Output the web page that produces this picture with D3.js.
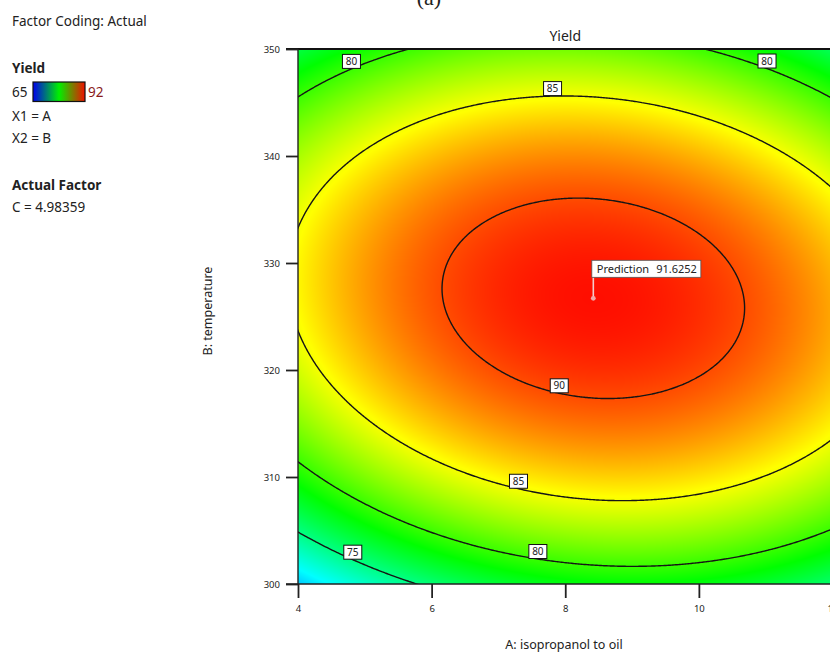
<!DOCTYPE html>
<html>
<head>
<meta charset="utf-8">
<script src="https://cdn.jsdelivr.net/npm/d3@7"></script>
<style>
  html, body { margin: 0; padding: 0; background: #fff; }
  svg { display: block; }
  text { font-family: "Noto Sans", "Open Sans", sans-serif; fill: #222; }
</style>
</head>
<body>
<svg id="chart" width="830" height="655"></svg>
<script>
// ---- factor axes ----
const aTicks = [4, 6, 8, 10, 12];
const bTicks = [300, 310, 320, 330, 340, 350];
const aDomain = [4, 12];
const bDomain = [300, 350];

// ---- yield colour ramp ----
const yieldRange = [65, 92];
const rampColors = ["#0000ff", "#00ffff", "#00ff00", "#ffff00", "#ff0000"];

// ---- fitted quadratic response, written about its stationary point ----
const optimumFactors = [8.42, 326.7];      // A, B at the maximum
const optimumYield = 91.6252;
const curvature = [0.32, 0.0187, 0.015];   // A^2, B^2, A*B terms

const contourLevels = [75, 80, 85, 90];

// ---- contour labels: level, A where the tag sits, side of the optimum ----
const labelLevels = [80, 85, 80, 90, 85, 80, 75];
const labelA = [4.80, 7.81, 11.02, 7.91, 7.30, 7.59, 4.82];
const labelSide = [1, 1, 1, -1, -1, -1, -1];

// ---- side panel text ----
const factorCoding = "Factor Coding: Actual";
const responseName = "Yield";
const factorMap = ["X1 = A", "X2 = B"];
const actualFactorTitle = "Actual Factor";
const actualFactor = "C = 4.98359";

function yieldAt(A, B) {
  const dA = A - optimumFactors[0], dB = B - optimumFactors[1];
  return optimumYield - curvature[0] * dA * dA - curvature[1] * dB * dB - curvature[2] * dA * dB;
}
// B on a given contour level at a given A (upper or lower branch)
function bOnLevel(level, A, side) {
  const dA = A - optimumFactors[0];
  const qa = curvature[1], qb = curvature[2] * dA,
        qc = curvature[0] * dA * dA - (optimumYield - level);
  const disc = Math.sqrt(qb * qb - 4 * qa * qc);
  return optimumFactors[1] + (-qb + side * disc) / (2 * qa);
}

const svg = d3.select("#chart");
const plotL = 298, plotR = 832.5, plotT = 49, plotB = 584;
const x = d3.scaleLinear(aDomain, [plotL, plotR]);
const y = d3.scaleLinear(bDomain, [plotB, plotT]);
const stops = d3.range(rampColors.length).map(i =>
  yieldRange[0] + i * (yieldRange[1] - yieldRange[0]) / (rampColors.length - 1));
const color = d3.scaleLinear().domain(stops).range(rampColors).clamp(true);

// ---- filled response surface, rendered per pixel ----
const pw = Math.ceil(plotR - plotL), ph = Math.ceil(plotB - plotT);
const canvas = document.createElement("canvas");
canvas.width = pw; canvas.height = ph;
const ctx = canvas.getContext("2d");
const img = ctx.createImageData(pw, ph);
for (let j = 0; j < ph; j++) {
  const B = y.invert(plotT + j + 0.5);
  for (let i = 0; i < pw; i++) {
    const A = x.invert(plotL + i + 0.5);
    const c = d3.rgb(color(yieldAt(A, B)));
    const k = (j * pw + i) * 4;
    img.data[k] = c.r; img.data[k + 1] = c.g; img.data[k + 2] = c.b; img.data[k + 3] = 255;
  }
}
ctx.putImageData(img, 0, 0);

const defs = svg.append("defs");
defs.append("clipPath").attr("id", "plotClip")
  .append("rect").attr("x", plotL).attr("y", plotT).attr("width", plotR - plotL).attr("height", plotB - plotT);

svg.append("image")
  .attr("x", plotL).attr("y", plotT).attr("width", pw).attr("height", ph)
  .attr("preserveAspectRatio", "none")
  .attr("href", canvas.toDataURL());

// ---- contour lines ----
const nx = 400, ny = 400;
const a0 = aDomain[0] - 0.2, a1 = aDomain[1] + 0.2;
const b0 = bDomain[0] - 1.5, b1 = bDomain[1] + 1.5;
const sa = (a1 - a0) / (nx - 1), sb = (b1 - b0) / (ny - 1);
const grid = new Float64Array(nx * ny);
for (let j = 0; j < ny; j++)
  for (let i = 0; i < nx; i++)
    grid[j * nx + i] = yieldAt(a0 + i * sa, b0 + j * sb);
const contours = d3.contours().size([nx, ny]).thresholds(contourLevels)(grid);
const toPixels = d3.geoTransform({
  point(px, py) { this.stream.point(x(a0 + (px - 0.5) * sa), y(b0 + (py - 0.5) * sb)); }
});
svg.append("g").attr("clip-path", "url(#plotClip)")
  .selectAll("path").data(contours).join("path")
  .attr("d", d3.geoPath(toPixels))
  .attr("fill", "none").attr("stroke", "#151515").attr("stroke-width", 1.4);

// ---- contour labels ----
const tags = svg.append("g");
labelLevels.forEach((lv, i) => {
  const px = x(labelA[i]), py = y(bOnLevel(lv, labelA[i], labelSide[i])) - 7.5;
  const g = tags.append("g").attr("transform", `translate(${px},${py})`);
  g.append("rect").attr("x", -9).attr("y", -7).attr("width", 18).attr("height", 14)
    .attr("fill", "#fff").attr("stroke", "#111").attr("stroke-width", 1);
  g.append("text").attr("text-anchor", "middle").attr("y", 3.6)
    .style("font-size", "10px").text(lv);
});

// ---- frame and axes ----
svg.append("line").attr("x1", 286).attr("x2", plotR).attr("y1", plotT).attr("y2", plotT)
  .attr("stroke", "#111").attr("stroke-width", 2);
svg.append("line").attr("x1", plotL).attr("x2", plotL).attr("y1", plotT).attr("y2", plotB)
  .attr("stroke", "#222").attr("stroke-width", 1.4);

const yAxis = svg.append("g").attr("transform", `translate(${plotL},0)`)
  .call(d3.axisLeft(y).tickValues(bTicks).tickSize(12).tickPadding(6));
const xAxis = svg.append("g").attr("transform", `translate(0,${plotB})`)
  .call(d3.axisBottom(x).tickValues(aTicks).tickSize(14).tickPadding(7));
[yAxis, xAxis].forEach(ax => {
  ax.select(".domain").remove();
  ax.selectAll(".tick line").attr("stroke", "#222").attr("stroke-width", 1.8);
  ax.selectAll(".tick text").style("font-size", "9.5px").attr("fill", "#333")
    .style("font-family", '"Noto Sans", sans-serif');
});
svg.append("line").attr("x1", 286).attr("x2", plotR).attr("y1", plotB).attr("y2", plotB)
  .attr("stroke", "#222").attr("stroke-width", 1.6);

// ---- titles ----
svg.append("text").attr("x", (plotL + plotR) / 2).attr("y", 41).attr("text-anchor", "middle")
  .style("font-size", "14px").text(responseName);
svg.append("text").attr("x", 564).attr("y", 649).attr("text-anchor", "middle")
  .style("font-size", "12.5px").text("A: isopropanol to oil");
svg.append("text").attr("transform", "translate(212,311) rotate(-90)").attr("text-anchor", "middle")
  .style("font-size", "12.5px").text("B: temperature");
svg.append("text").attr("x", 429).attr("y", 5).attr("text-anchor", "middle")
  .style("font-family", '"Liberation Serif", "DejaVu Serif", serif').style("font-size", "22px")
  .attr("fill", "#111").text("(a)");

// ---- prediction flag ----
const ppx = x(optimumFactors[0]), ppy = y(optimumFactors[1]);
const flag = svg.append("g");
flag.append("line").attr("x1", ppx).attr("x2", ppx).attr("y1", ppy).attr("y2", ppy - 21)
  .attr("stroke", "#f3cccc").attr("stroke-width", 1.6);
flag.append("circle").attr("cx", ppx).attr("cy", ppy).attr("r", 2.4).attr("fill", "#f2a9a9");
const flagBox = flag.append("rect").attr("x", ppx - 1.5).attr("y", ppy - 38)
  .attr("height", 17).attr("fill", "#fff").attr("stroke", "#555").attr("stroke-width", 0.8);
const flagText = flag.append("text").attr("x", ppx + 3.5).attr("y", ppy - 25.5)
  .style("font-size", "11px").attr("fill", "#111");
flagText.append("tspan").text("Prediction");
flagText.append("tspan").attr("dx", 7).text(optimumYield.toFixed(4));
const flagBB = flagText.node().getBBox();
flagBox.attr("width", flagBB.x + flagBB.width + 4 - (ppx - 1.5));

// ---- side panel ----
const panel = svg.append("g");
panel.append("text").attr("x", 12).attr("y", 26).style("font-size", "13.5px").text(factorCoding);
panel.append("text").attr("x", 12).attr("y", 73).style("font-size", "13.5px")
  .style("font-weight", "bold").text(responseName);
const grad = defs.append("linearGradient").attr("id", "legendGrad");
[["0%", "#0000ee"], ["50%", "#00f000"], ["100%", "#f01000"]].forEach(([o, c]) =>
  grad.append("stop").attr("offset", o).attr("stop-color", c));
panel.append("rect").attr("x", 33).attr("y", 82).attr("width", 52).attr("height", 19.5)
  .attr("fill", "url(#legendGrad)").attr("stroke", "#111").attr("stroke-width", 1.2);
panel.append("text").attr("x", 12).attr("y", 96.5).style("font-size", "13.5px").text(yieldRange[0]);
panel.append("text").attr("x", 88).attr("y", 96.5).style("font-size", "13.5px")
  .style("fill", "#8a1a1a").text(yieldRange[1]);
factorMap.forEach((t, i) =>
  panel.append("text").attr("x", 12).attr("y", 120.5 + i * 22).style("font-size", "13.5px").text(t));
panel.append("text").attr("x", 12).attr("y", 190).style("font-size", "13.5px")
  .style("font-weight", "bold").text(actualFactorTitle);
panel.append("text").attr("x", 12).attr("y", 212).style("font-size", "13.5px").text(actualFactor);
</script>
</body>
</html>
